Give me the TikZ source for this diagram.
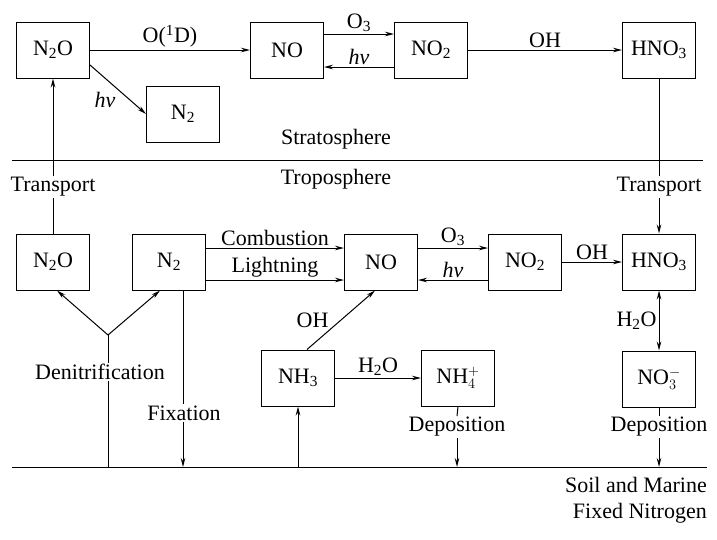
\documentclass[tikz,border=0pt]{standalone}
\usepackage{fontspec}
\setmainfont{Liberation Serif}
\usetikzlibrary{positioning, arrows.meta}

\begin{document}
\begin{tikzpicture}[
    x=1pt, y=-1pt,
    font=\fontsize{22}{26}\selectfont,
    box/.style={draw, line width=1pt, minimum width=73pt,
                minimum height=56pt, inner sep=0pt},
    arr/.style={-{Stealth[length=9pt, width=4.5pt]}, line width=1pt},
    ln/.style={line width=1pt},
    lbl/.style={inner sep=2pt},
    gap/.style={fill=white, inner sep=1pt}
  ]
    \useasboundingbox (0,0) rectangle (717,539);
    % Stratosphere row
    \node[box] at (53,50) (n2oS) {N\textsubscript{2}O};
    \node[box, right=160pt of n2oS] (noS) {NO};
    \node[box, right=70pt of noS] (no2S) {NO\textsubscript{2}};
    \node[box, right=154pt of no2S] (hno3S) {HNO\textsubscript{3}};
    \node[box] at (183,114) (n2S) {N\textsubscript{2}};
    % Troposphere row
    \node[box] at (53,262) (n2oT) {N\textsubscript{2}O};
    \node[box, right=42pt of n2oT] (n2T) {N\textsubscript{2}};
    \node[box, right=138pt of n2T] (noT) {NO};
    \node[box, right=70pt of noT] (no2T) {NO\textsubscript{2}};
    \node[box, right=60pt of no2T] (hno3T) {HNO\textsubscript{3}};
    \node[box, below=60pt of hno3T] (no3T) {NO$_3^-$};
    \node[box] at (298,378) (nh3) {NH\textsubscript{3}};
    \node[box, right=86pt of nh3] (nh4) {NH$_4^+$};
    % Layer boundaries
    \coordinate (topW) at (12,160);
    \coordinate (topE) at (703,160);
    \coordinate (baseW) at (12,467);
    \coordinate (baseE) at (707,467);
    \draw[ln] (topW) -- (topE);
    \draw[ln] (baseW) -- (baseE);
    \node[lbl] (strato) at (336,139) {Stratosphere};
    \node[lbl] (tropo) at (336,179) {Troposphere};
    \node[lbl, anchor=north east, align=right] (soil) at (709,475)
          {Soil and Marine\\Fixed Nitrogen};
    % Transport between layers
    \node[gap] (tranL) at (53,187) {Transport};
    \node[gap] (tranR) at (659,187) {Transport};
    \draw[ln] (n2oT.north) -- (tranL.south);
    \draw[arr] (tranL.north) -- (n2oS.south);
    \draw[ln] (hno3S.south) -- (tranR.north);
    \draw[arr] (tranR.south) -- (hno3T.north);
    % Stratosphere reactions
    \draw[arr] (n2oS.east) -- (noS.west)
      node[midway, above, lbl] {O(\textsuperscript{1}D)};
    \draw[arr] ([yshift=16pt]noS.east) -- ([yshift=16pt]no2S.west)
      node[midway, above, lbl] {O\textsubscript{3}};
    \draw[arr] ([yshift=-17pt]no2S.west) -- ([yshift=-17pt]noS.east)
      node[midway, above, lbl] {\textit{hν}};
    \draw[arr] (no2S.east) -- (hno3S.west)
      node[midway, above, lbl] {OH};
    \draw[arr] ([yshift=-15pt]n2oS.east) -- (n2S.west)
      node[midway, below left, lbl] {\textit{hν}};
    % Troposphere reactions
    \draw[arr] ([yshift=14pt]n2T.east) -- ([yshift=14pt]noT.west)
      node[midway, above, lbl] {Combustion};
    \draw[arr] ([yshift=-18pt]n2T.east) -- ([yshift=-18pt]noT.west)
      node[midway, above, lbl] {Lightning};
    \draw[arr] ([yshift=14pt]noT.east) -- ([yshift=14pt]no2T.west)
      node[midway, above, lbl] {O\textsubscript{3}};
    \draw[arr] ([yshift=-18pt]no2T.west) -- ([yshift=-18pt]noT.east)
      node[midway, above, lbl] {\textit{hν}};
    \draw[arr] (no2T.east) -- (hno3T.west)
      node[midway, above, lbl] {OH};
    \draw[{Stealth[length=9pt, width=4.5pt]}-{Stealth[length=9pt, width=4.5pt]}, ln]
      (hno3T.south) -- (no3T.north)
      node[midway, left, lbl] {H\textsubscript{2}O};
    \draw[arr] ([xshift=9pt]nh3.north) -- ([xshift=-6pt]noT.south)
      node[midway, left=10pt, lbl] {OH};
    \draw[arr] (nh3.east) -- (nh4.west)
      node[midway, above, lbl] {H\textsubscript{2}O};
    % Exchange with the ground
    \node[gap] (denit) at (100,372) {Denitrification};
    \coordinate (fork) at (108,335);
    \draw[ln] (fork |- baseW) -- (fork |- denit.south);
    \draw[ln] (fork |- denit.north) -- (fork);
    \draw[arr] (fork) -- ([xshift=4pt]n2oT.south);
    \draw[arr] (fork) -- ([xshift=-9pt]n2T.south);
    \node[gap] (fix) at (184,413) {Fixation};
    \draw[ln] ([xshift=14pt]n2T.south) -- ([xshift=14pt]n2T.south |- fix.north);
    \draw[arr] ([xshift=14pt]n2T.south |- fix.south) -- ([xshift=14pt]n2T.south |- baseW);
    \draw[arr] (nh3 |- baseW) -- (nh3.south);
    \node[gap] (depA) at (457,427) {Deposition};
    \draw[ln] (nh4.south) -- (depA.north);
    \draw[arr] (depA.south) -- (depA |- baseW);
    \node[gap] (depB) at (659,427) {Deposition};
    \draw[ln] (no3T.south) -- (depB.north);
    \draw[arr] (depB.south) -- (depB |- baseW);
  \end{tikzpicture}
\end{document}
